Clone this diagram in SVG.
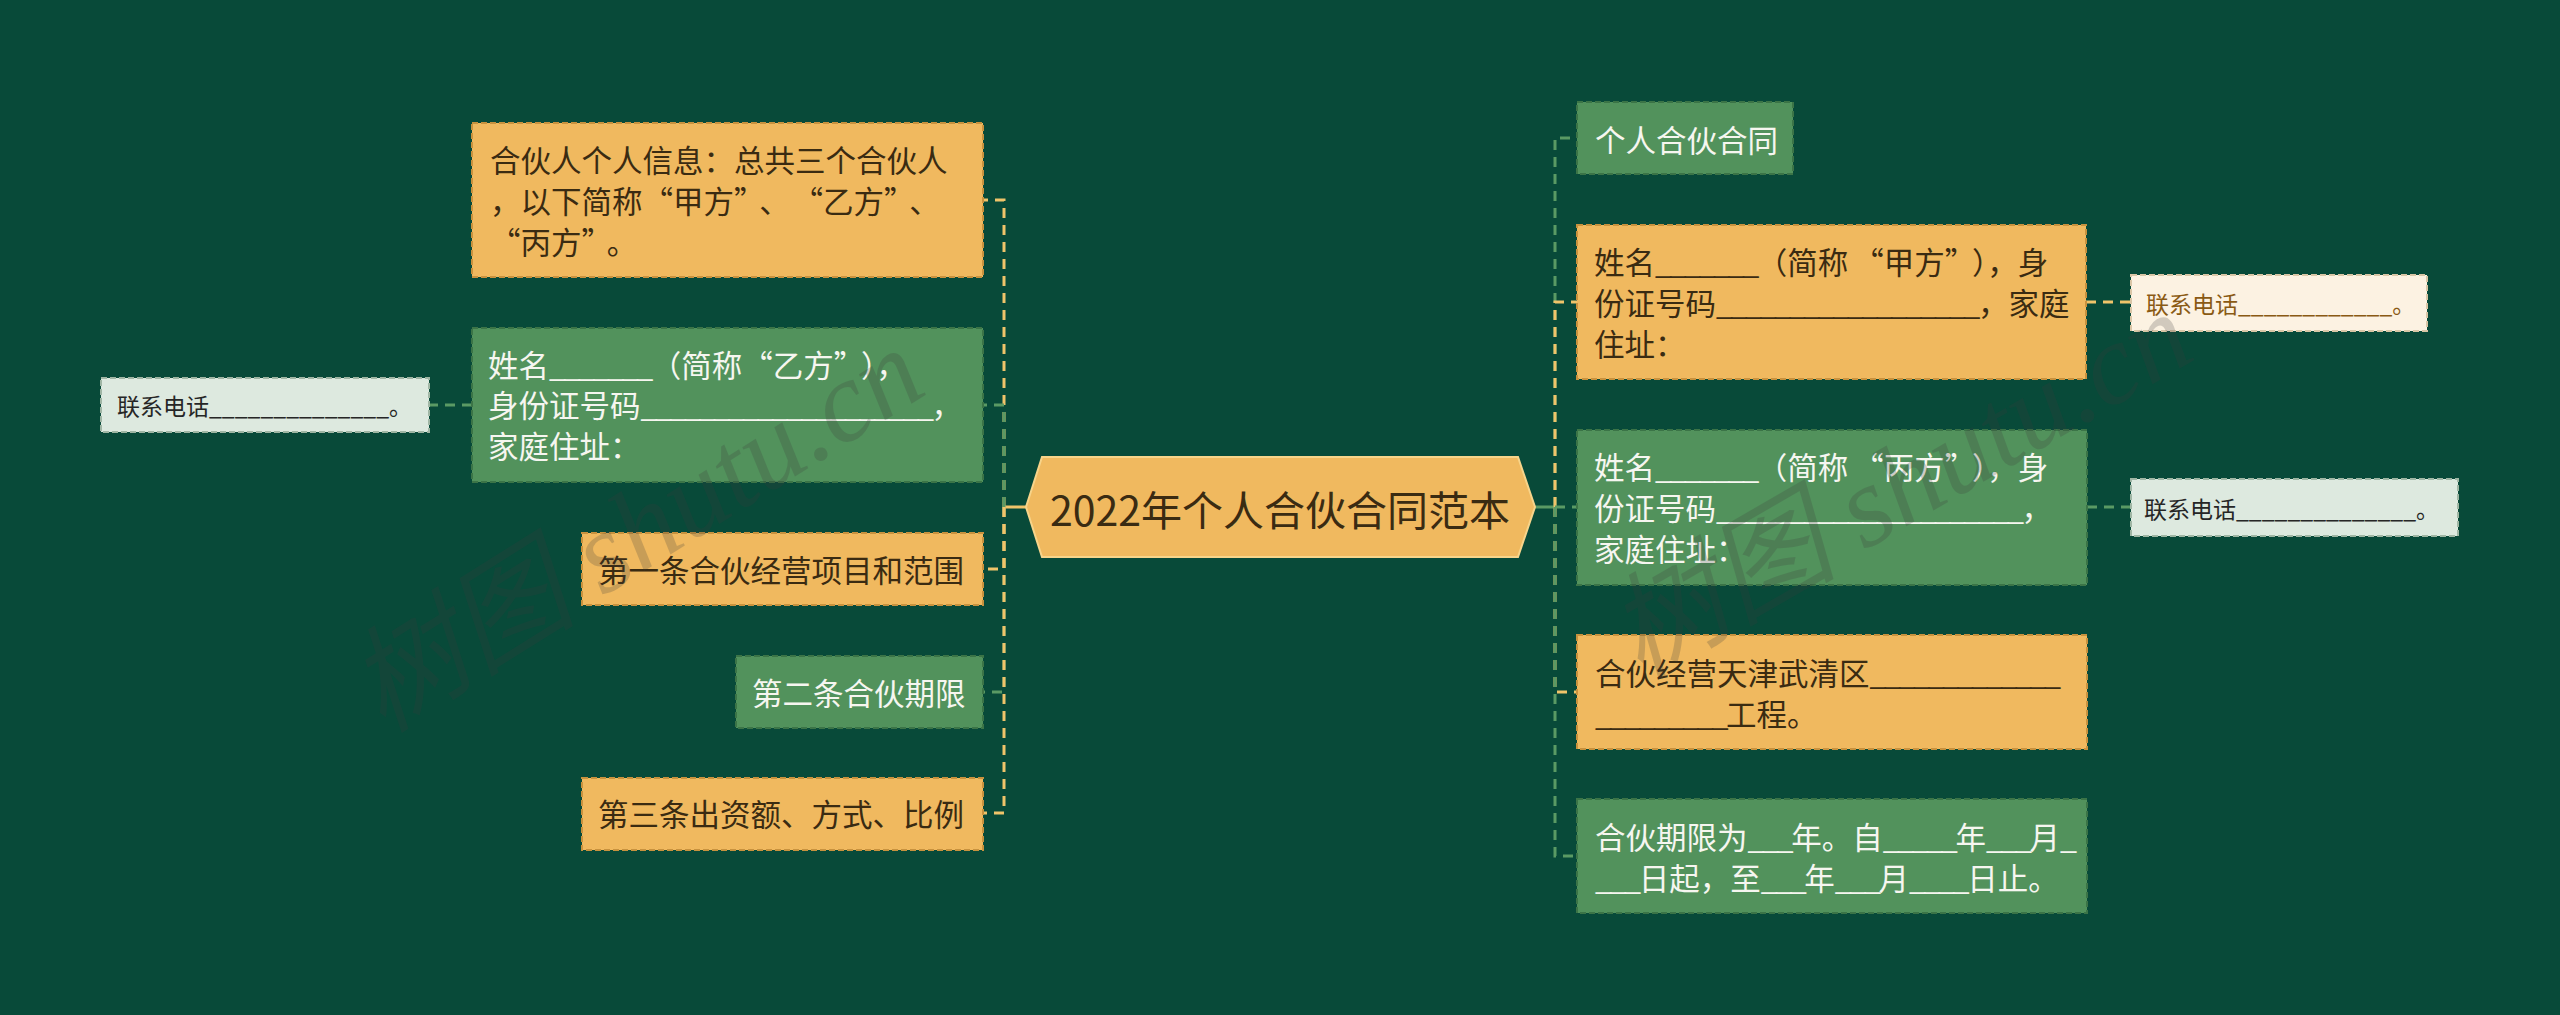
<svg xmlns="http://www.w3.org/2000/svg" width="2560" height="1015" viewBox="0 0 2560 1015">
<style>
.t{font-family:"Noto Sans CJK SC","Noto Sans",sans-serif;font-size:30.5px;dominant-baseline:central}
.s{font-family:"Noto Sans CJK SC","Noto Sans",sans-serif;font-size:23px;dominant-baseline:central}
.u{letter-spacing:-2.5px}
.or{fill:#f0b95f;stroke:#c8923e;stroke-width:2;stroke-dasharray:6 3}
.gr{fill:#52925c;stroke:#3b7447;stroke-width:2;stroke-dasharray:6 3}
.lg{fill:#dde9df;stroke:#9fb6a4;stroke-width:2;stroke-dasharray:6 3}
.cr{fill:#fcf2e2;stroke:#d9c6a6;stroke-width:2;stroke-dasharray:6 3}
.dk{fill:#3a2b12}
.wt{fill:#f6f6f0}
.bk{fill:#262626}
.br{fill:#8a5a14}
.cy{fill:none;stroke:#f0c46a;stroke-width:3;stroke-dasharray:10 7}
.cg{fill:none;stroke:#5a9a64;stroke-width:3;stroke-dasharray:10 7}
.wm{font-family:"Liberation Serif","Noto Sans CJK SC",serif;font-style:italic;font-size:115px;fill:#3c3c3c;opacity:0.22}
</style>
<rect width="2560" height="1015" fill="#084a39"/>
<g id="connectors">
<line x1="1004" y1="507" x2="1026" y2="507" stroke="#f0c46a" stroke-width="3"/>
<line x1="1535" y1="507" x2="1555" y2="507" stroke="#5a9a64" stroke-width="3"/>
<path class="cy" d="M1004 507 V200 H983"/>
<path class="cg" d="M1004 507 V405 H983"/>
<path class="cg" d="M1004 507 V692 H983"/>
<path class="cy" d="M1004 507 V569 H983"/>
<path class="cy" d="M1004 507 V813 H983"/>
<path class="cg" d="M472 405 H429"/>
<path class="cg" d="M1555 507 V138 H1577"/>
<path class="cy" d="M1555 507 V302 H1577"/>
<path class="cy" d="M1555 507 V692 H1577"/>
<path class="cg" d="M1555 507 V856 H1577"/>
<path class="cg" d="M1555 507 H1577"/>
<path class="cy" d="M2086 302 H2131"/>
<path class="cg" d="M2087 507 H2131"/>
</g>
<g id="root">
<polygon points="1026,507 1042,457 1518,457 1535,507 1518,557 1042,557" fill="#f0b95f" stroke="#f7d48a" stroke-width="2"/>
<text class="dk" x="1280" y="508" text-anchor="middle" style="font-family:'Noto Sans CJK SC',sans-serif;font-size:41px;dominant-baseline:central">2022年个人合伙合同范本</text>
</g>
<g id="L1">
<rect class="or" x="472" y="123" width="511" height="154"/>
<text class="t dk" x="490" y="159">合伙人个人信息：总共三个合伙人</text>
<text class="t dk" x="490" y="200">，以下简称“甲方”<tspan dx="10">、</tspan><tspan dx="18">“</tspan>乙方”<tspan dx="10">、</tspan></text>
<text class="t dk" x="490" y="241">“丙方”<tspan dx="10">。</tspan></text>
</g>
<g id="L2">
<rect class="gr" x="472" y="328" width="511" height="154"/>
<text class="t wt" x="488" y="364">姓名<tspan class="u">_______</tspan>（简称“乙方”<tspan dx="12">）</tspan>，</text>
<text class="t wt" x="488" y="404">身份证号码<tspan class="u">____________________</tspan>，</text>
<text class="t wt" x="488" y="445">家庭住址：</text>
</g>
<g id="L2c">
<rect class="lg" x="101" y="378" width="328" height="54"/>
<text class="s bk" x="117" y="405">联系电话______________。</text>
</g>
<g id="L3">
<rect class="or" x="582" y="533" width="401" height="72"/>
<text class="t dk" x="598" y="569">第一条合伙经营项目和范围</text>
</g>
<g id="L4">
<rect class="gr" x="736" y="656" width="247" height="72"/>
<text class="t wt" x="752" y="692">第二条合伙期限</text>
</g>
<g id="L5">
<rect class="or" x="582" y="778" width="401" height="72"/>
<text class="t dk" x="598" y="813">第三条出资额、方式、比例</text>
</g>
<g id="R1">
<rect class="gr" x="1577" y="102" width="216" height="72"/>
<text class="t wt" x="1595" y="139">个人合伙合同</text>
</g>
<g id="R2">
<rect class="or" x="1577" y="225" width="509" height="154"/>
<text class="t dk" x="1594" y="261">姓名<tspan class="u">_______</tspan>（简称<tspan dx="5">“</tspan>甲方”<tspan dx="12">）</tspan>，身</text>
<text class="t dk" x="1594" y="302">份证号码<tspan class="u">__________________</tspan>，家庭</text>
<text class="t dk" x="1594" y="343">住址：</text>
</g>
<g id="R2c">
<rect class="cr" x="2131" y="275" width="296" height="56"/>
<text class="s br" x="2146" y="303">联系电话____________。</text>
</g>
<g id="R3">
<rect class="gr" x="1577" y="430" width="510" height="155"/>
<text class="t wt" x="1594" y="466">姓名<tspan class="u">_______</tspan>（简称<tspan dx="5">“</tspan>丙方”<tspan dx="12">）</tspan>，身</text>
<text class="t wt" x="1594" y="507">份证号码<tspan class="u">_____________________</tspan>，</text>
<text class="t wt" x="1594" y="548">家庭住址：</text>
</g>
<g id="R3c">
<rect class="lg" x="2131" y="479" width="327" height="57"/>
<text class="s bk" x="2144" y="508">联系电话______________。</text>
</g>
<g id="R4">
<rect class="or" x="1577" y="635" width="510" height="114"/>
<text class="t dk" x="1595" y="672">合伙经营天津武清区<tspan class="u">_____________</tspan></text>
<text class="t dk" x="1595" y="713"><tspan class="u">_________</tspan>工程。</text>
</g>
<g id="R5">
<rect class="gr" x="1577" y="799" width="510" height="114"/>
<text class="t wt" x="1595" y="836">合伙期限为<tspan class="u">___</tspan>年。自<tspan class="u">_____</tspan>年<tspan class="u">___</tspan>月<tspan class="u">_</tspan></text>
<text class="t wt" x="1595" y="877"><tspan class="u">___</tspan>日起，至<tspan class="u">___</tspan>年<tspan class="u">___</tspan>月<tspan class="u">____</tspan>日止。</text>
</g>
<g id="watermark">
<text class="wm" x="383" y="734" transform="rotate(-32 383 734)">树图 shutu.cn</text>
<text class="wm" x="1640" y="680" transform="rotate(-30 1640 680)">树图 shutu.cn</text>
</g>
</svg>
